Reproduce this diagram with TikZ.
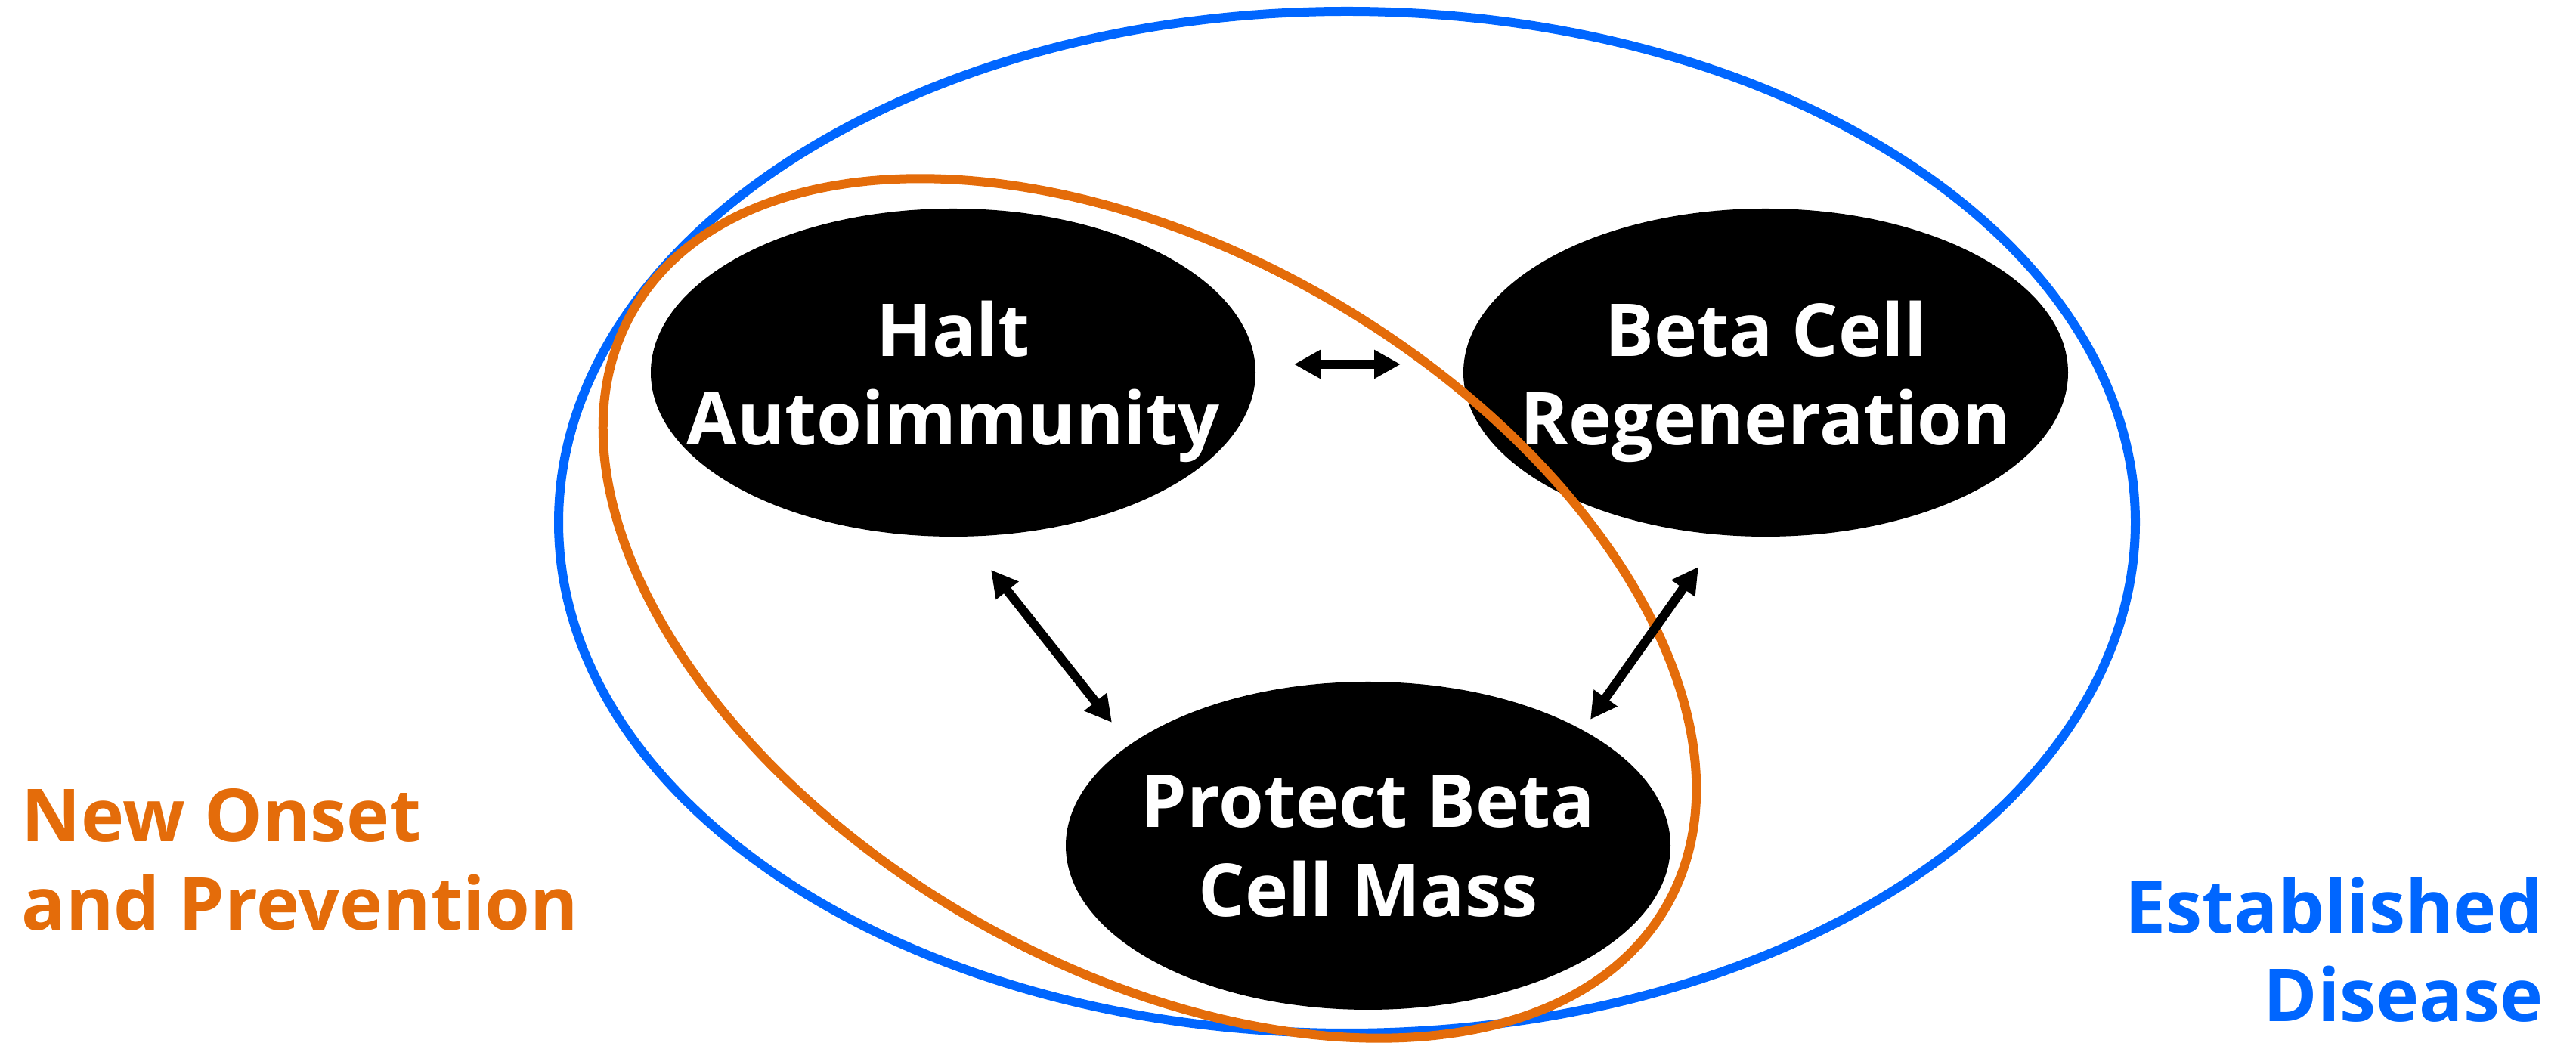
\documentclass[tikz,border=0pt]{standalone}
\usepackage{fontspec}
\setmainfont{Open Sans}
\usetikzlibrary{shapes,arrows.meta,positioning,calc}
\definecolor{onset}{RGB}{228,108,10}
\definecolor{estab}{RGB}{0,102,255}
\tikzset{
goal/.style = {fill=black, ellipse, minimum width=8cm, minimum height=4.34cm, inner xsep=-1cm, inner ysep=0pt, text depth=0pt, text=white, align=center, font=\fontsize{27.5}{33.3}\selectfont\bfseries},
ring/.style = {line width=1.2mm},
link/.style = {<->, line width=1.2mm},
tag/.style  = {inner sep=0pt, font=\fontsize{27.5}{33.3}\selectfont\bfseries}
}
\begin{document}
\begin{tikzpicture}[auto, >={Triangle[length=3.5mm,width=3.6mm]}]
					\useasboundingbox (0,0) rectangle (34.08,13.80);
					\draw[ring, estab] (17.82,6.89) ellipse (10.43 and 6.76);
					\node[goal] (halt) at (12.61,8.87) {Halt\\Autoimmunity};
					\node[goal] (regen) at (23.36,8.87) {Beta Cell\\Regeneration};
					\node[goal] (protect) at (18.10,2.61) {Protect Beta\\Cell Mass};
					\draw[ring, onset, rotate around={-30:(15.21,5.75)}] (15.21,5.75) ellipse (7.89 and 4.73);
					\coordinate (h1) at (17.12,8.98);
					\coordinate (r1) at (18.53,8.98);
					\coordinate (h2) at (13.11,6.26);
					\coordinate (p2) at (14.71,4.24);
					\coordinate (r3) at (22.47,6.30);
					\coordinate (p3) at (21.04,4.28);
					\draw[link] (h1) -- (r1);
					\draw[link] (h2) -- (p2);
					\draw[link] (r3) -- (p3);
					\node[tag, onset, anchor=base west, align=left] (newonset) at (0.28,1.49) {New Onset\\and Prevention};
					\node[tag, estab, anchor=base east, align=right] (established) at (33.65,0.28) {Established\\Disease};
				\end{tikzpicture}
\end{document}
